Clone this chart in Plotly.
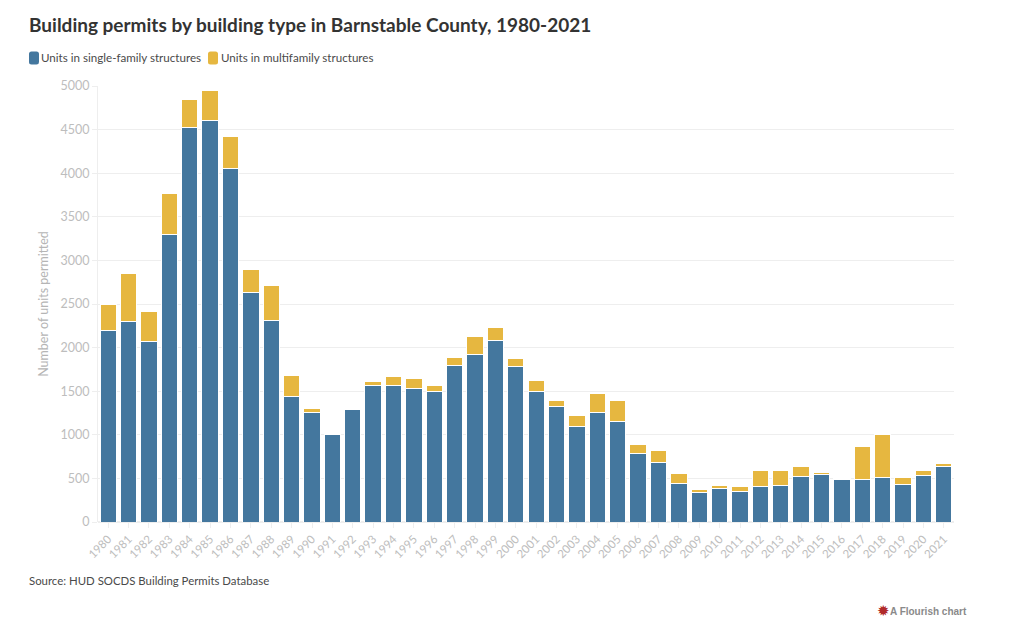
import plotly.graph_objects as go

years = [str(y) for y in range(1980, 2022)]
single_family = [2200,2295,2075,3300,4520,4600,4050,2630,2315,1440,1255,1000,1285,1560,1565,1530,1495,1790,1925,2080,1780,1495,1320,1090,1260,1150,785,680,445,335,380,345,410,420,525,545,490,485,515,425,535,640]
multifamily = [300,560,335,470,330,350,370,265,395,240,45,15,5,50,105,110,65,100,200,145,100,125,75,135,215,240,105,140,115,40,40,60,180,175,115,25,10,385,490,85,55,30]
y_ticks = [0,500,1000,1500,2000,2500,3000,3500,4000,4500,5000]
series_names = ["Units in single-family structures", "Units in multifamily structures"]
series_colors = ["#44779e", "#e6b740"]

OFF = 8  # page body margin
W, H = 1024 - OFF, 627 - OFF
L, R, T, B = 98 - OFF, 954 - OFF, 86 - OFF, 522 - OFF
FONT = "Lato"

def px(v):
    return (v - OFF - L) / (R - L)

def py(v):
    return (B - (v - OFF)) / (B - T)

def text(s, x, y, size, color, anchor="left", family=FONT):
    return dict(text=s, xref="paper", yref="paper", x=px(x), y=py(y), xanchor=anchor, yanchor="middle",
                showarrow=False, borderpad=0, borderwidth=0, font=dict(size=size, color=color, family=family))

def swatch(x, y, color):
    x0, x1, y0, y1, r = x, x + 10, y - 6.5, y + 6.5, 2.5
    pts = [(x0 + r, y0), (x1 - r, y0), (x1, y0), (x1, y0 + r), (x1, y1 - r), (x1, y1), (x1 - r, y1),
           (x0 + r, y1), (x0, y1), (x0, y1 - r), (x0, y0 + r), (x0, y0), (x0 + r, y0)]
    c = [f"{px(a):.5f},{py(b):.5f}" for a, b in pts]
    path = (f"M{c[0]} L{c[1]} Q{c[2]} {c[3]} L{c[4]} Q{c[5]} {c[6]} "
            f"L{c[7]} Q{c[8]} {c[9]} L{c[10]} Q{c[11]} {c[12]} Z")
    return dict(type="path", xref="paper", yref="paper", path=path, fillcolor=color, line=dict(width=0))

fig = go.Figure()
fig.add_bar(x=years, y=single_family, name=series_names[0],
            marker=dict(color=series_colors[0], line=dict(color="white", width=1)))
fig.add_bar(x=years, y=multifamily, name=series_names[1],
            marker=dict(color=series_colors[1], line=dict(color="white", width=1)))

fig.update_layout(
    width=W, height=H, autosize=False, barmode="stack", bargap=0.2,
    paper_bgcolor="white", plot_bgcolor="white",
    font=dict(family=FONT, color="#333"),
    margin=dict(l=L, r=W - R, t=T, b=H - B, pad=0),
    hovermode=False, showlegend=False,
    xaxis=dict(type="category", range=[-0.5, 41.5], tickangle=-45, ticks="outside", ticklen=5,
               tickcolor="#eee", tickfont=dict(size=11.5, color="#bdbdbd", family=FONT),
               showgrid=False, showline=False, zeroline=False, tickmode="array",
               tickvals=years, ticktext=years),
    yaxis=dict(range=[0, 5000], tickvals=y_ticks, ticks="outside", ticklen=5, tickcolor="#eee",
               tickfont=dict(size=12.5, color="#bdbdbd", family=FONT), gridcolor="#eeeeee", gridwidth=1,
               zeroline=True, zerolinecolor="#eeeeee", showline=True, linecolor="#eeeeee", linewidth=1,
               title=dict(text="Number of units permitted", standoff=9,
                          font=dict(size=12.5, color="#b5b5b5", family=FONT))),
    shapes=[swatch(29, 58, series_colors[0]), swatch(208, 58, series_colors[1])],
    annotations=[
        text("<b>Building permits by building type in Barnstable County, 1980-2021</b>", 29, 24, 19, "#333333"),
        text(series_names[0], 41, 58, 11.6, "#4a4a4a"),
        text(series_names[1], 221, 58, 11.6, "#4a4a4a"),
        text("Source: HUD SOCDS Building Permits Database", 29, 580, 11.4, "#4a4a4a"),
        text("<b>A Flourish chart</b>", 967, 611, 10, "#8a8a8a", anchor="right", family="Liberation Sans"),
        text("✹", 883, 610.5, 15, "#b02a2a", anchor="center", family="DejaVu Sans"),
    ],
)
fig.write_html("out.html")
